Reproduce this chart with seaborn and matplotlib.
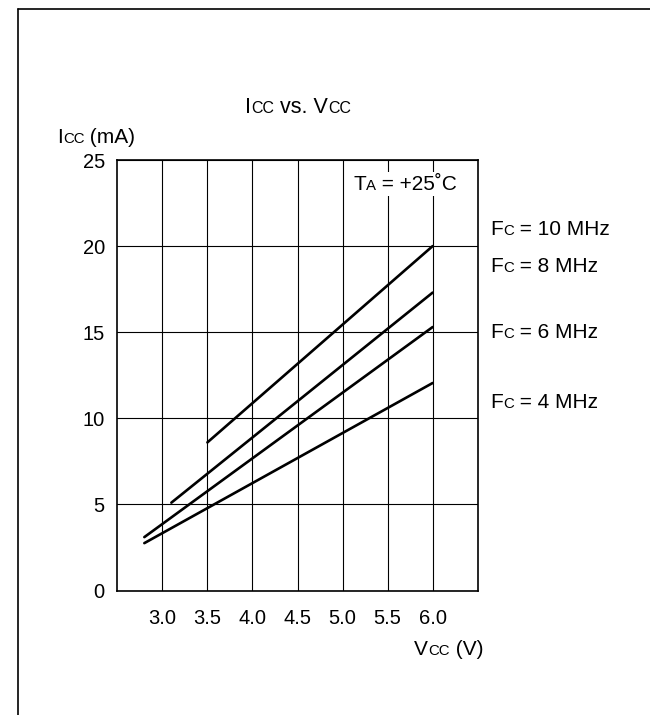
import numpy as np
import pandas as pd
import seaborn as sns
import matplotlib.pyplot as plt
from matplotlib.lines import Line2D
from matplotlib.offsetbox import TextArea, HPacker, AnnotationBbox

# curve end points (Vcc in V, Icc in mA)
freqs = ["10 MHz", "8 MHz", "6 MHz", "4 MHz"]
vcc_start = [3.5, 3.1, 2.8, 2.8]
vcc_end = [6.0, 6.0, 6.0, 6.0]
icc_start = [8.6, 5.1, 3.1, 2.75]
icc_end = [20.0, 17.3, 15.3, 12.05]

x_ticks = [3.0, 3.5, 4.0, 4.5, 5.0, 5.5, 6.0]
y_ticks = [0, 5, 10, 15, 20, 25]

# label baselines (data units) for the Fc labels on the right
label_y = [20.64, 18.5, 14.66, 10.65]

FONT = "Liberation Sans"
BIG = 14.5
LAB = 15
SMALL = 10.8

rows = []
for f, x0, x1, y0, y1 in zip(freqs, vcc_start, vcc_end, icc_start, icc_end):
    rows.append({"freq": f, "vcc": x0, "icc": y0})
    rows.append({"freq": f, "vcc": x1, "icc": y1})
df = pd.DataFrame(rows)

sns.set_style("white")
plt.rcParams["font.family"] = [FONT, "DejaVu Sans"]

W, H = 650, 715
fig = plt.figure(figsize=(W / 100, H / 100), dpi=100)
ax = fig.add_axes([117.3 / W, 1 - 590.5 / H, (477.7 - 117.3) / W, (590.5 - 160) / H])

sns.lineplot(data=df, x="vcc", y="icc", hue="freq", palette=["black"] * 4,
             legend=False, linewidth=1.9, ax=ax, zorder=3)

ax.set_xlim(2.5, 6.5)
ax.set_ylim(0, 25)
ax.set_xticks(x_ticks)
ax.set_yticks(y_ticks)
ax.set_xticklabels([f"{v:.1f}" for v in x_ticks])
ax.set_yticklabels([str(v) for v in y_ticks])
ax.tick_params(axis="both", length=0, labelsize=BIG, colors="black")
ax.tick_params(axis="x", pad=13)
ax.tick_params(axis="y", pad=9)
ax.set_xlabel("")
ax.set_ylabel("")
ax.grid(True, color="black", linewidth=0.8)
for s in ax.spines.values():
    s.set_color("black")
    s.set_linewidth(1.2)


def rich(parts, x, y, xycoords="figure pixels", align=(0, 0), bg=None):
    areas = [TextArea(t, textprops=dict(size=sz, family=[FONT, "DejaVu Sans"], color="black"))
             for t, sz in parts]
    box = HPacker(children=areas, align="baseline", pad=0, sep=0)
    ab = AnnotationBbox(box, (x, y), xycoords=xycoords, box_alignment=align,
                        frameon=bg is not None, pad=0.2, annotation_clip=False,
                        bboxprops=dict(facecolor="white", edgecolor="none") if bg else None,
                        zorder=5)
    ax.add_artist(ab)


# title and axis labels
rich([("I", 15.5), ("CC", 11.5), (" vs. V", 15.5), ("CC", 11.5)], 298, H - 118, align=(0.5, 0))
rich([("I", LAB), ("CC", SMALL), (" (mA)", LAB)], 57, H - 147, align=(0, 0))
rich([("V", LAB), ("CC", SMALL), (" (V)", LAB)], 483, H - 659, align=(1, 0))

# temperature note with white background over the grid
rich([("T", LAB), ("A", SMALL), (" = +25\u02daC", LAB)], 5.12, 23.05,
     xycoords="data", align=(0, 0), bg=True)

# frequency labels right of the plot
for f, ly in zip(freqs, label_y):
    ypix = ax.transData.transform((0, ly))[1]
    rich([("F", LAB), ("C", SMALL), (" = " + f, LAB)], 490, ypix - 4.4, align=(0, 0))

# page frame (left and top edges)
fig.add_artist(Line2D([18 / W, 18 / W], [0, 1 - 9 / H], color="black", linewidth=1.2,
                      transform=fig.transFigure))
fig.add_artist(Line2D([18 / W, 1], [1 - 9 / H, 1 - 9 / H], color="black", linewidth=1.2,
                      transform=fig.transFigure))

fig.savefig("out.png", dpi=100)
